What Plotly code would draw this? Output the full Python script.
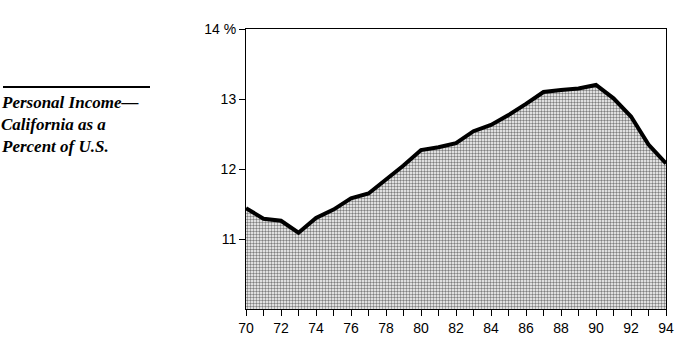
import plotly.graph_objects as go

years = list(range(1970, 1995))
share = [11.44, 11.29, 11.26, 11.09, 11.30, 11.42, 11.58, 11.65, 11.85, 12.05,
         12.27, 12.31, 12.37, 12.54, 12.63, 12.77, 12.93, 13.10, 13.13, 13.15,
         13.20, 13.01, 12.75, 12.35, 12.08]
ytick_vals = [11, 12, 13, 14]
ytick_text = ["11", "12", "13", "14 %"]
xtick_labels = [str(y)[2:] if y % 2 == 0 else "" for y in years]
title_lines = ["Personal Income\u2014", "California as a", "Percent of U.S."]

W, H = 676, 338
L, R, T, B = 246, 10, 29, 29
pw, ph = W - L - R, H - T - B

def px(x):
    return (x - L) / pw

def py(y):
    return (H - B - y) / ph

fig = go.Figure()
fig.add_trace(go.Scatter(
    x=years, y=share, mode="lines",
    line=dict(color="black", width=4),
    fill="tozeroy",
    fillcolor="#b8b8b8",
    fillpattern=dict(shape=".", fgcolor="#000000", bgcolor="#ffffff", size=3, solidity=0.5),
    hoverinfo="skip",
))

fig.update_layout(
    width=W, height=H,
    margin=dict(l=L, r=R, t=T, b=B, autoexpand=False),
    paper_bgcolor="white", plot_bgcolor="white",
    showlegend=False,
    font=dict(family="Liberation Sans, Arial, sans-serif", size=14, color="black"),
    xaxis=dict(
        range=[1970, 1994], tickmode="array",
        tickvals=years, ticktext=xtick_labels,
        ticks="outside", ticklen=6, tickwidth=1, tickcolor="black",
        showline=True, linecolor="black", linewidth=1, mirror=True,
        showgrid=False, zeroline=False, automargin=False,
        tickfont=dict(size=14),
    ),
    yaxis=dict(
        range=[10, 14], tickmode="array",
        tickvals=ytick_vals, ticktext=ytick_text,
        ticks="outside", ticklen=6, tickwidth=1, tickcolor="black",
        showline=True, linecolor="black", linewidth=1, mirror=True,
        showgrid=False, zeroline=False, automargin=False,
        tickfont=dict(size=14),
    ),
)

fig.add_shape(type="line", xref="paper", yref="paper",
              x0=px(3), x1=px(150), y0=py(87), y1=py(87),
              line=dict(color="black", width=2))

for i, t in enumerate(title_lines):
    fig.add_annotation(
        xref="paper", yref="paper", x=px(-1), y=py(103 + 21.5 * i),
        text="<b><i>" + t + "</i></b>", showarrow=False,
        xanchor="left", yanchor="middle", align="left",
        font=dict(family="Liberation Serif, Times New Roman, serif", size=17, color="black"),
    )

fig.write_html("out.html")
